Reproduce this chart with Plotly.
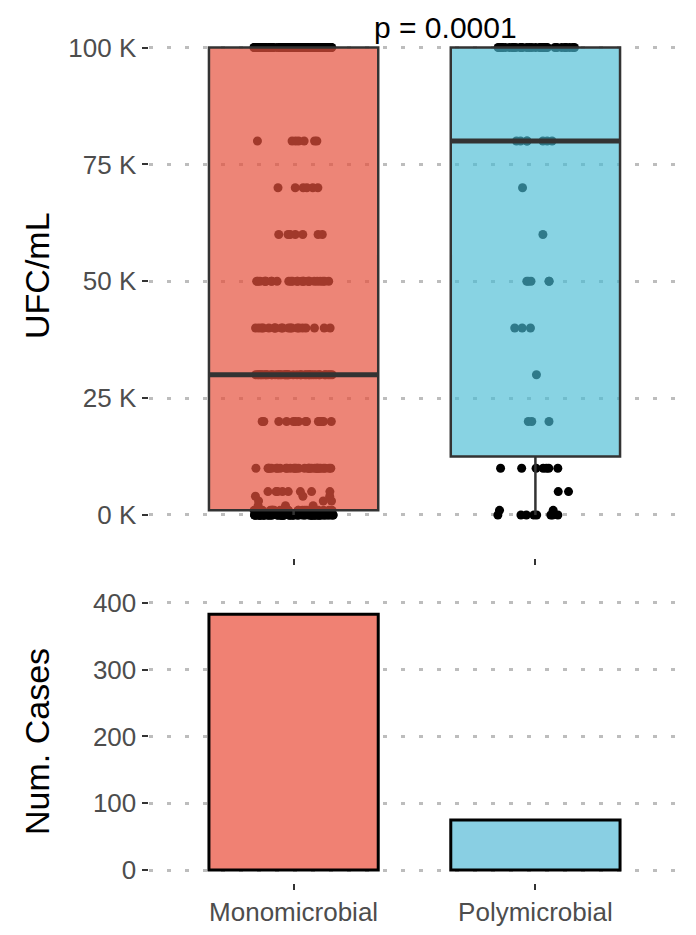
import numpy as np
import plotly.graph_objects as go

categories = ["Monomicrobial", "Polymicrobial"]

# UFC/mL values of individual cases (level, number of cases at that level)
mono_levels = [0, 1000, 2000, 3000, 4000, 5000, 10000, 20000, 30000, 40000,
               50000, 60000, 70000, 80000, 100000]
mono_counts = [75, 25, 3, 3, 3, 8, 30, 14, 40, 20, 26, 7, 6, 7, 116]
poly_levels = [0, 1000, 5000, 10000, 20000, 30000, 40000, 50000, 60000,
               70000, 80000, 100000]
poly_counts = [8, 2, 2, 7, 3, 1, 3, 5, 1, 1, 7, 35]

# box statistics
box_q1 = [1000, 12500]
box_median = [30000, 80000]
box_q3 = [100000, 100000]
box_lower = [0, 0]
box_upper = [100000, 100000]

# number of cases per group
case_counts = [383, 75]

y_tickvals = [0, 25000, 50000, 75000, 100000]
y_ticktext = ["0 K", "25 K", "50 K", "75 K", "100 K"]
y2_tickvals = [0, 100, 200, 300, 400]
p_label = "p = 0.0001"

box_fill = ["rgba(229,81,61,0.70)", "rgba(72,188,212,0.65)"]
bar_fill = ["#F08173", "#89CFE3"]

W, H = 696, 935
FONT = "Liberation Sans, Arial, sans-serif"
xdom = [148.5 / W, 680.5 / W]
top_range = [-9200, 109100]

fig = go.Figure()

mono_vals = np.repeat(mono_levels, mono_counts)
poly_vals = np.repeat(poly_levels, poly_counts)
pts_y = np.concatenate([mono_vals, poly_vals])
pts_x = [categories[0]] * len(mono_vals) + [categories[1]] * len(poly_vals)

# jittered points (drawn underneath the semi-transparent boxes)
fig.add_trace(go.Box(
    x=pts_x, y=pts_y, boxpoints="all", jitter=0.47, pointpos=0, width=0.7,
    fillcolor="rgba(0,0,0,0)", line=dict(width=0, color="rgba(0,0,0,0)"),
    marker=dict(color="black", size=9), xaxis="x", yaxis="y",
    showlegend=False, hoverinfo="y"))

for i, cat in enumerate(categories):
    fig.add_trace(go.Box(
        x=[cat], q1=[box_q1[i]], median=[box_median[i]], q3=[box_q3[i]],
        lowerfence=[box_lower[i]], upperfence=[box_upper[i]],
        width=0.7, whiskerwidth=0, boxpoints=False,
        fillcolor=box_fill[i], line=dict(color="#333333", width=2.5),
        xaxis="x", yaxis="y3", showlegend=False))
    # thicker median line
    fig.add_trace(go.Box(
        x=[cat], q1=[box_median[i]], median=[box_median[i]], q3=[box_median[i]],
        lowerfence=[box_median[i]], upperfence=[box_median[i]],
        width=0.7, whiskerwidth=0, boxpoints=False,
        fillcolor="rgba(0,0,0,0)", line=dict(color="#333333", width=5),
        xaxis="x", yaxis="y3", showlegend=False, hoverinfo="skip"))

fig.add_trace(go.Bar(
    x=categories, y=case_counts, width=0.7,
    marker=dict(color=bar_fill, line=dict(color="black", width=3)),
    xaxis="x2", yaxis="y2", showlegend=False))

tickfont = dict(family=FONT, size=26, color="#4d4d4d")
grid = dict(showgrid=True, gridcolor="#bdbdbd", gridwidth=2.5, griddash="4px,14px",
            zeroline=False, showline=False, ticks="outside", ticklen=6,
            tickwidth=2, tickcolor="#333333", tickfont=tickfont, automargin=False)
xcommon = dict(type="category", categoryorder="array", categoryarray=categories,
               range=[-0.6, 1.6], domain=xdom, showgrid=False, zeroline=False,
               showline=False, ticks="outside", ticklen=6, tickwidth=2,
               tickcolor="#333333", tickfont=tickfont, automargin=False)

fig.update_layout(
    width=W, height=H, margin=dict(l=0, r=0, t=0, b=0, autoexpand=False),
    paper_bgcolor="white", plot_bgcolor="white", boxmode="overlay",
    font=dict(family=FONT),
    xaxis=dict(anchor="y", showticklabels=False, **xcommon),
    yaxis=dict(anchor="x", domain=[1 - 558 / H, 1 - 5 / H], range=top_range,
               tickmode="array", tickvals=y_tickvals, ticktext=y_ticktext, **grid),
    yaxis3=dict(anchor="x", overlaying="y", range=top_range, visible=False,
                automargin=False),
    xaxis2=dict(anchor="y2", **xcommon),
    yaxis2=dict(anchor="x2", domain=[1 - 882.8 / H, 1 - 601.4 / H],
                range=[-19.15, 402.15], tickmode="array", tickvals=y2_tickvals, **grid),
    annotations=[
        dict(text=p_label, xref="paper", yref="paper", x=445 / W, y=1 - 27 / H,
             showarrow=False, font=dict(family=FONT, size=30, color="black"),
             xanchor="center", yanchor="middle"),
        dict(text="UFC/mL", xref="paper", yref="paper", x=37 / W, y=1 - 276 / H,
             showarrow=False, textangle=-90,
             font=dict(family=FONT, size=34, color="black"),
             xanchor="center", yanchor="middle"),
        dict(text="Num. Cases", xref="paper", yref="paper", x=37 / W, y=1 - 742 / H,
             showarrow=False, textangle=-90,
             font=dict(family=FONT, size=34, color="black"),
             xanchor="center", yanchor="middle"),
    ],
)

fig.write_html("out.html")
